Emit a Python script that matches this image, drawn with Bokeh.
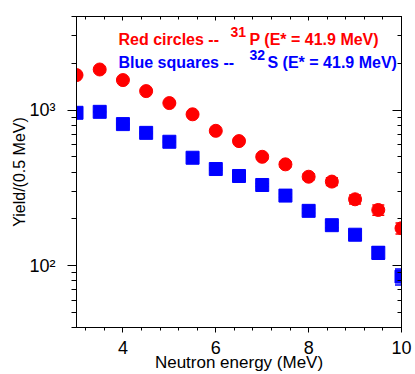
import math
from bokeh.plotting import figure
from bokeh.models import (ColumnDataSource, Whisker, TeeHead, Label, LinearAxis, LogAxis,
                          SingleIntervalTicker, FixedTicker, Range1d, CustomJSTickFormatter)
from bokeh.embed import file_html
from bokeh.resources import INLINE

# ---- data ----
energy = [3.0, 3.5, 4.0, 4.5, 5.0, 5.5, 6.0, 6.5, 7.0, 7.5, 8.0, 8.5, 9.0, 9.5, 10.0]
p31_yield = [1680, 1825, 1560, 1325, 1110, 940, 736, 632, 501, 448, 373, 347, 267, 228, 174]
p31_err = [15, 15, 15, 14, 13, 12, 12, 20, 18, 18, 17, 20, 18, 17, 14]
s32_yield = [961, 975, 813, 714, 626, 494, 418, 377, 330, 282, 225, 182, 158, 121, 85]
s32_err = [10, 10, 9, 9, 8, 8, 7, 7, 7, 7, 7, 7, 8, 11, 10]
y_major = [100, 1000]
y_tick_labels = {100: "10\u00b2", 1000: "10\u00b3"}
y_minor = [m * 10 ** k for k in (1, 2, 3) for m in range(2, 10)]

X0, X1 = 3, 10
Y0, Y1 = 40, 4000
RED = "#ff0000"
BLUE = "#0000ff"
FONT = "Liberation Sans"

# canvas-pixel -> data helpers for annotation placement
FL, FR, FT, FB = 76, 401, 16, 328
W, H = 415, 374
def dx(px):
    return X0 + (px - FL) * (X1 - X0) / (FR - FL)
def dy(py):
    return 10 ** (math.log10(Y1) - (py - FT) * (math.log10(Y1) - math.log10(Y0)) / (FB - FT))

p = figure(width=W, height=H, x_range=Range1d(X0, X1), y_range=Range1d(Y0, Y1),
           y_axis_type="log", output_backend="svg", toolbar_location=None,
           min_border_left=FL, min_border_right=W - FR, min_border_top=FT,
           min_border_bottom=H - FB)
p.grid.visible = False
p.outline_line_color = "black"
p.outline_line_width = 1
p.background_fill_color = "white"
p.border_fill_color = "white"

xticker = SingleIntervalTicker(interval=2, num_minor_ticks=5)
yticker = FixedTicker(ticks=y_major, minor_ticks=y_minor)

xa = p.xaxis[0]
xa.ticker = xticker
xa.major_tick_out = 5
xa.major_tick_in = 0
xa.minor_tick_out = 3
xa.minor_tick_in = 0
xa.major_label_standoff = 8
xa.major_label_text_font = FONT
xa.major_label_text_font_size = "18px"
xa.major_label_text_color = "black"
xa.axis_line_color = "black"
xa.axis_label = "Neutron energy (MeV)"
xa.axis_label_text_font = FONT
xa.axis_label_text_font_size = "17px"
xa.axis_label_text_font_style = "normal"
xa.axis_label_text_color = "black"
xa.axis_label_standoff = -4

ya = p.yaxis[0]
ya.ticker = yticker
ya.major_label_overrides = y_tick_labels
ya.major_tick_out = 9
ya.major_tick_in = 0
ya.minor_tick_out = 5
ya.minor_tick_in = 0
ya.major_label_standoff = 12
ya.major_label_text_font = FONT
ya.major_label_text_font_size = "18px"
ya.major_label_text_color = "black"
ya.axis_line_color = "black"
ya.axis_label = "Yield/(0.5 MeV)"
ya.axis_label_text_font = FONT
ya.axis_label_text_font_size = "16px"
ya.axis_label_text_font_style = "normal"
ya.axis_label_text_color = "black"
ya.axis_label_standoff = -2

blank = CustomJSTickFormatter(code="return ''")
top = LinearAxis(ticker=xticker, formatter=blank, major_tick_in=4, major_tick_out=0,
                 minor_tick_in=3, minor_tick_out=0, major_label_standoff=0,
                 axis_line_color="black")
right = LogAxis(ticker=yticker, formatter=blank, major_tick_in=9, major_tick_out=0,
                minor_tick_in=4, minor_tick_out=0, major_label_standoff=0,
                axis_line_color="black")
p.add_layout(top, "above")
p.add_layout(right, "right")

# error bars
src_p = ColumnDataSource(dict(x=energy, y=p31_yield,
                              upper=[v + e for v, e in zip(p31_yield, p31_err)],
                              lower=[v - e for v, e in zip(p31_yield, p31_err)]))
src_s = ColumnDataSource(dict(x=energy, y=s32_yield,
                              upper=[v + e for v, e in zip(s32_yield, s32_err)],
                              lower=[v - e for v, e in zip(s32_yield, s32_err)]))
p.add_layout(Whisker(source=src_p, base="x", upper="upper", lower="lower", line_color=RED,
                     line_width=1.5,
                     upper_head=TeeHead(size=12, line_color=RED, line_width=1.5),
                     lower_head=TeeHead(size=12, line_color=RED, line_width=1.5)))
p.add_layout(Whisker(source=src_s, base="x", upper="upper", lower="lower", line_color=BLUE,
                     line_width=1.5,
                     upper_head=TeeHead(size=13, line_color=BLUE, line_width=1.5),
                     lower_head=TeeHead(size=13, line_color=BLUE, line_width=1.5)))

p.scatter("x", "y", source=src_p, marker="circle", size=13, fill_color=RED, line_color=RED)
p.scatter("x", "y", source=src_s, marker="square", size=13, fill_color=BLUE, line_color=BLUE)

def lab(x, y, text, size, color):
    p.add_layout(Label(x=x, y=y, text=text, text_font=FONT, text_font_size=size,
                       text_font_style="bold", text_color=color,
                       text_align="left", text_baseline="alphabetic"))

# legend-like texts
lab(dx(118), dy(39), "Red circles -- ", "16px", RED)
lab(dx(230), dy(31.7), "31", "14px", RED)
lab(dx(249), dy(39), "P (E* = 41.9 MeV)", "16px", RED)
lab(dx(118), dy(61.7), "Blue squares -- ", "16px", BLUE)
lab(dx(249), dy(54.5), "32", "14px", BLUE)
lab(dx(267), dy(61.7), "S (E* = 41.9 MeV)", "16px", BLUE)

open("out.html", "w").write(file_html(p, INLINE))
